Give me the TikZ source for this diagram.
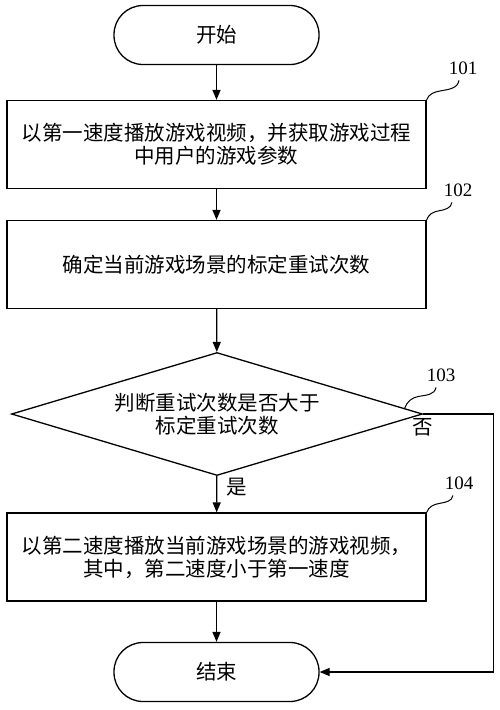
\documentclass[tikz,border=0pt]{standalone}
\usepackage{fontspec}
\newfontfamily\cjk{Noto Sans CJK SC}
\newfontfamily\numfont{Liberation Serif}
\usetikzlibrary{shapes.geometric,arrows.meta,calc}

\begin{document}
\begin{tikzpicture}[x=1pt,y=-1pt,line width=1.3pt,
        >={Triangle[length=10pt,width=8pt]},
        term/.style={rectangle,draw,rounded corners=29pt,minimum width=205pt,minimum height=59pt,font=\cjk\fontsize{20.5}{23}\selectfont},
        proc/.style={rectangle,draw,minimum width=419pt,minimum height=88pt,align=center,font=\cjk\fontsize{20.5}{23}\selectfont},
        cond/.style={diamond,draw,aspect=3.3,minimum width=411pt,minimum height=123pt,align=center,font=\cjk\fontsize{20.5}{23}\selectfont},
        lbl/.style={font=\cjk\fontsize{20.5}{23}\selectfont},
        tag/.style={font=\numfont\fontsize{19}{21}\selectfont},
        wave/.style={line width=1pt}]
        \useasboundingbox (0,0) rectangle (500,710);

        \node[term] (start) at (216.5,35) {开始};
        \node[proc] (s101) at (216.5,144.5) {以第一速度播放游戏视频，并获取游戏过程\\中用户的游戏参数};
        \node[proc] (s102) at (216.5,264.5) {确定当前游戏场景的标定重试次数};
        \node[cond] (s103) at (217,414) {判断重试次数是否大于\\标定重试次数};
        \node[proc] (s104) at (216.5,557) {以第二速度播放当前游戏场景的游戏视频，\\其中，第二速度小于第一速度};
        \node[term] (stop) at (216.5,672) {结束};

        % step numbers
        \node[tag] (t101) at (463,68) {101};
        \node[tag] (t102) at (458,190) {102};
        \node[tag] (t103) at (441,375) {103};
        \node[tag] (t104) at (459,483) {104};

        \draw[wave] (s101.north east) to[out=70,in=190] ++(14,-9) to[out=10,in=260] ($(t101.south)+(-4,2)$);
        \draw[wave] (s102.north east) to[out=70,in=190] ++(12,-9) to[out=10,in=260] ($(t102.south)+(-6,2)$);
        \draw[wave] ($(s103.east)!0.09!(s103.north)$) to[out=70,in=190] ++(14,-12) to[out=10,in=260] ($(t103.south)+(-5,2)$);
        \draw[wave] (s104.north east) to[out=70,in=190] ++(13,-9) to[out=10,in=260] ($(t104.south)+(-6,2)$);

        \draw[->] (start) -- (s101);
        \draw[->] (s101) -- (s102);
        \draw[->] (s102) -- (s103);
        \draw[->] (s103) -- node[lbl,right=6pt,pos=0.3] {是} (s104);
        \draw[->] (s104) -- (stop);
        \draw[->] (s103.east) -- node[lbl,below,pos=0] {否} ++(70,0) |- (stop.east);
\end{tikzpicture}
\end{document}
